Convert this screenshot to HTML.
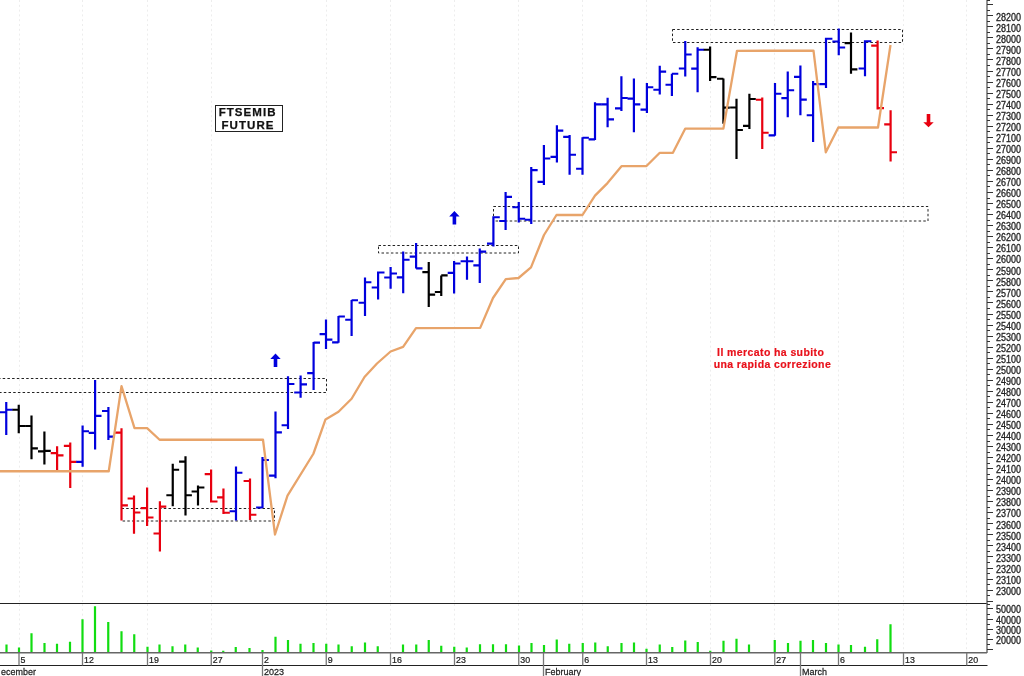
<!DOCTYPE html><html><head><meta charset="utf-8"><style>html,body{margin:0;padding:0;background:#fff;width:1024px;height:676px;overflow:hidden}svg{display:block;font-family:"Liberation Sans",sans-serif}#w{filter:blur(0.5px)}</style></head><body><div id="w"><svg width="1024" height="676" viewBox="0 0 1024 676"><rect width="1024" height="676" fill="#fff"/><path d="M19.5 0V603M82.5 0V603M147.5 0V603M211.5 0V603M326.5 0V603M390.5 0V603M454.5 0V603M518.5 0V603M582.5 0V603M646.5 0V603M710.5 0V603M774.5 0V603M838.5 0V603M903.5 0V603M966.5 0V603" stroke="#ededed" stroke-width="1" stroke-dasharray="2 2.8" fill="none"/><path d="M19.5 604V653M82.5 604V653M147.5 604V653M211.5 604V653M326.5 604V653M390.5 604V653M454.5 604V653M518.5 604V653M582.5 604V653M646.5 604V653M710.5 604V653M774.5 604V653M838.5 604V653M903.5 604V653M966.5 604V653" stroke="#ededed" stroke-width="1" stroke-dasharray="2 2.8" fill="none"/><rect x="-2" y="378.5" width="328.5" height="14.0" fill="none" stroke="#222" stroke-width="1" stroke-dasharray="2.5 2.2"/><rect x="121.5" y="508.5" width="153.0" height="12.5" fill="none" stroke="#222" stroke-width="1" stroke-dasharray="2.5 2.2"/><rect x="378.5" y="245.5" width="140.0" height="7.5" fill="none" stroke="#222" stroke-width="1" stroke-dasharray="2.5 2.2"/><rect x="493.5" y="206.5" width="434.5" height="14.5" fill="none" stroke="#222" stroke-width="1" stroke-dasharray="2.5 2.2"/><rect x="672.5" y="29.5" width="230.0" height="13.0" fill="none" stroke="#222" stroke-width="1" stroke-dasharray="2.5 2.2"/><path d="M6.25 402V435M-0.15000000000000036 412.25H6.25M6.25 409.75H12.65" stroke="#0000DD" stroke-width="2.2" fill="none"/><path d="M18.75 404.75V433.3M12.35 409.75H18.75M18.75 426H25.15" stroke="#000000" stroke-width="2.2" fill="none"/><path d="M31.5 415.4V459.3M25.1 426H31.5M31.5 448.3H37.9" stroke="#000000" stroke-width="2.2" fill="none"/><path d="M44.4 431.6V464.5M38.0 451.4H44.4M44.4 450.8H50.8" stroke="#000000" stroke-width="2.2" fill="none"/><path d="M57.1 446.3V470.6M50.7 453.1H57.1M57.1 455.3H63.5" stroke="#E8000F" stroke-width="2.2" fill="none"/><path d="M70.25 442.5V488.1M63.85 445.8H70.25M70.25 461.9H76.65" stroke="#E8000F" stroke-width="2.2" fill="none"/><path d="M82.6 425.6V466.7M76.19999999999999 461.9H82.6M82.6 431.25H89.0" stroke="#0000DD" stroke-width="2.2" fill="none"/><path d="M95.1 380V449.4M88.69999999999999 432.8H95.1M95.1 415.8H101.5" stroke="#0000DD" stroke-width="2.2" fill="none"/><path d="M108.4 406.9V440M102.0 411H108.4M108.4 436.6H114.80000000000001" stroke="#0000DD" stroke-width="2.2" fill="none"/><path d="M121.5 428.3V520.6M115.1 432.7H121.5M121.5 505.4H127.9" stroke="#E8000F" stroke-width="2.2" fill="none"/><path d="M134 495.6V533.75M127.6 498.5H134M134 512.5H140.4" stroke="#E8000F" stroke-width="2.2" fill="none"/><path d="M147.1 487.5V526M140.7 508.1H147.1M147.1 517.5H153.5" stroke="#E8000F" stroke-width="2.2" fill="none"/><path d="M159.9 501.25V551.5M153.5 533.5H159.9M159.9 506.6H166.3" stroke="#E8000F" stroke-width="2.2" fill="none"/><path d="M172.75 463.75V506.25M166.35 495.25H172.75M172.75 469.75H179.15" stroke="#000000" stroke-width="2.2" fill="none"/><path d="M185.5 456.25V515.4M179.1 461.6H185.5M185.5 495.25H191.9" stroke="#000000" stroke-width="2.2" fill="none"/><path d="M198 485.6V505.6M191.6 491.5H198M198 487.5H204.4" stroke="#000000" stroke-width="2.2" fill="none"/><path d="M211.1 469.4V502.5M204.7 474.2H211.1M211.1 501.5H217.5" stroke="#E8000F" stroke-width="2.2" fill="none"/><path d="M223.45 488.5V514M217.04999999999998 497.4H223.45M223.45 512.75H229.85" stroke="#E8000F" stroke-width="2.2" fill="none"/><path d="M236 466.5V520.6M229.6 511.25H236M236 472.75H242.4" stroke="#0000DD" stroke-width="2.2" fill="none"/><path d="M250 478.5V520M243.6 481H250M250 514.75H256.4" stroke="#E8000F" stroke-width="2.2" fill="none"/><path d="M262.5 456.9V508.1M256.1 507.5H262.5M262.5 460H268.9" stroke="#0000DD" stroke-width="2.2" fill="none"/><path d="M275.5 411.5V478.3M269.1 475.6H275.5M275.5 432.4H281.9" stroke="#0000DD" stroke-width="2.2" fill="none"/><path d="M288 376.25V429M281.6 425.25H288M288 384H294.4" stroke="#0000DD" stroke-width="2.2" fill="none"/><path d="M300.6 375.6V397.75M294.20000000000005 392.5H300.6M300.6 384.4H307.0" stroke="#0000DD" stroke-width="2.2" fill="none"/><path d="M313.6 341.9V390M307.20000000000005 373.1H313.6M313.6 342.6H320.0" stroke="#0000DD" stroke-width="2.2" fill="none"/><path d="M326 319.4V349M319.6 334.2H326M326 339.6H332.4" stroke="#0000DD" stroke-width="2.2" fill="none"/><path d="M338.5 316V342.75M332.1 342.4H338.5M338.5 316.5H344.9" stroke="#0000DD" stroke-width="2.2" fill="none"/><path d="M351.6 300V336.1M345.20000000000005 319.75H351.6M351.6 300.25H358.0" stroke="#0000DD" stroke-width="2.2" fill="none"/><path d="M365 277.5V316M358.6 302.75H365M365 282.25H371.4" stroke="#0000DD" stroke-width="2.2" fill="none"/><path d="M378.1 271.5V299.4M371.70000000000005 287.5H378.1M378.1 272.5H384.5" stroke="#0000DD" stroke-width="2.2" fill="none"/><path d="M390.6 266.9V288.75M384.20000000000005 277.5H390.6M390.6 273.5H397.0" stroke="#0000DD" stroke-width="2.2" fill="none"/><path d="M403.2 251.6V293.3M396.8 277.4H403.2M403.2 259.75H409.59999999999997" stroke="#0000DD" stroke-width="2.2" fill="none"/><path d="M416.1 242.9V268.6M409.70000000000005 256.6H416.1M416.1 268.4H422.5" stroke="#0000DD" stroke-width="2.2" fill="none"/><path d="M428.75 262V307.1M422.35 272.2H428.75M428.75 294.6H435.15" stroke="#000000" stroke-width="2.2" fill="none"/><path d="M441.25 275.4V296M434.85 292H441.25M441.25 275.4H447.65" stroke="#000000" stroke-width="2.2" fill="none"/><path d="M454.1 261V293.5M447.70000000000005 272.9H454.1M454.1 263.5H460.5" stroke="#0000DD" stroke-width="2.2" fill="none"/><path d="M467 256.6V279.75M460.6 261.25H467M467 261.25H473.4" stroke="#0000DD" stroke-width="2.2" fill="none"/><path d="M479.75 248.5V282.9M473.35 265.4H479.75M479.75 251.6H486.15" stroke="#0000DD" stroke-width="2.2" fill="none"/><path d="M493.4 216.25V246.6M487.0 243.6H493.4M493.4 217.25H499.79999999999995" stroke="#0000DD" stroke-width="2.2" fill="none"/><path d="M505.6 191.9V230M499.20000000000005 221H505.6M505.6 196.9H512.0" stroke="#0000DD" stroke-width="2.2" fill="none"/><path d="M518.75 201.9V222.5M512.35 207.25H518.75M518.75 218.75H525.15" stroke="#0000DD" stroke-width="2.2" fill="none"/><path d="M531.25 166.9V224M524.85 219.75H531.25M531.25 170.1H537.65" stroke="#0000DD" stroke-width="2.2" fill="none"/><path d="M543.9 145V185M537.5 181.9H543.9M543.9 158.5H550.3" stroke="#0000DD" stroke-width="2.2" fill="none"/><path d="M556.9 125.25V162.5M550.5 156.9H556.9M556.9 130.6H563.3" stroke="#0000DD" stroke-width="2.2" fill="none"/><path d="M569.6 135V174.75M563.2 136.9H569.6M569.6 154.75H576.0" stroke="#0000DD" stroke-width="2.2" fill="none"/><path d="M582.5 137.25V174.75M576.1 168.75H582.5M582.5 137.75H588.9" stroke="#0000DD" stroke-width="2.2" fill="none"/><path d="M595 102.3V140M588.6 139.4H595M595 104.4H601.4" stroke="#0000DD" stroke-width="2.2" fill="none"/><path d="M607.6 97.8V127.25M601.2 104.4H607.6M607.6 119.4H614.0" stroke="#0000DD" stroke-width="2.2" fill="none"/><path d="M621.4 76.25V111M615.0 108.4H621.4M621.4 98H627.8" stroke="#0000DD" stroke-width="2.2" fill="none"/><path d="M633.9 78.5V132.25M627.5 98.6H633.9M633.9 104.4H640.3" stroke="#0000DD" stroke-width="2.2" fill="none"/><path d="M646.9 82.9V113.1M640.5 109.6H646.9M646.9 87.25H653.3" stroke="#0000DD" stroke-width="2.2" fill="none"/><path d="M659.75 65.75V94.5M653.35 89.75H659.75M659.75 71.6H666.15" stroke="#0000DD" stroke-width="2.2" fill="none"/><path d="M671.9 73.75V96M665.5 84.75H671.9M671.9 73.75H678.3" stroke="#0000DD" stroke-width="2.2" fill="none"/><path d="M685.25 41V76.6M678.85 68.5H685.25M685.25 54.5H691.65" stroke="#0000DD" stroke-width="2.2" fill="none"/><path d="M697.6 47.25V92.25M691.2 68.6H697.6M697.6 49.75H704.0" stroke="#0000DD" stroke-width="2.2" fill="none"/><path d="M710.1 46.6V81.1M703.7 49.75H710.1M710.1 77.1H716.5" stroke="#000000" stroke-width="2.2" fill="none"/><path d="M723.4 78.5V123.75M717.0 78.75H723.4M723.4 107.6H729.8" stroke="#000000" stroke-width="2.2" fill="none"/><path d="M736.5 98.75V159M730.1 107.5H736.5M736.5 130H742.9" stroke="#000000" stroke-width="2.2" fill="none"/><path d="M749.4 93.75V129M743.0 125.8H749.4M749.4 99H755.8" stroke="#000000" stroke-width="2.2" fill="none"/><path d="M762.25 97.5V149M755.85 99.75H762.25M762.25 132.75H768.65" stroke="#E8000F" stroke-width="2.2" fill="none"/><path d="M775 83.1V135.8M768.6 135.3H775M775 93.75H781.4" stroke="#0000DD" stroke-width="2.2" fill="none"/><path d="M787.75 71.5V117.2M781.35 98.1H787.75M787.75 90.25H794.15" stroke="#0000DD" stroke-width="2.2" fill="none"/><path d="M800.4 65.6V115.3M794.0 76.9H800.4M800.4 99.6H806.8" stroke="#0000DD" stroke-width="2.2" fill="none"/><path d="M813.1 80.9V142.1M806.7 115.25H813.1M813.1 84.1H819.5" stroke="#0000DD" stroke-width="2.2" fill="none"/><path d="M826 37.75V88.1M819.6 84.1H826M826 38.75H832.4" stroke="#0000DD" stroke-width="2.2" fill="none"/><path d="M838.75 28.5V55.25M832.35 41.5H838.75M838.75 47.5H845.15" stroke="#0000DD" stroke-width="2.2" fill="none"/><path d="M851 32.5V73.75M844.6 43.1H851M851 69.4H857.4" stroke="#000000" stroke-width="2.2" fill="none"/><path d="M865 40.25V76.25M858.6 68.5H865M865 41.25H871.4" stroke="#0000DD" stroke-width="2.2" fill="none"/><path d="M877.6 40.6V109.4M871.2 45.6H877.6M877.6 108.1H884.0" stroke="#E8000F" stroke-width="2.2" fill="none"/><path d="M890.6 110.25V161.5M884.2 124.4H890.6M890.6 152.25H897.0" stroke="#E8000F" stroke-width="2.2" fill="none"/><polyline points="0,471.25 108.75,471.25 121.5,386.2 134.5,428.1 147.1,428.1 159.6,439.75 263,439.75 275,534.5 287.5,495.6 313.4,453.75 325.5,419.4 338.5,411.8 351.6,398.75 364.5,377 377,363.5 390.6,351.5 403.1,346.9 416,328.1 480.2,327.9 493,298 505.8,279.1 518.5,278 531,267.4 544,235 556.5,215 582.5,215 595,195.6 607.5,183.1 621.5,166.2 646.5,166 659.8,152.8 672.9,152.8 685.3,128.6 723.4,128.6 737,50.8 813.5,50.7 825.8,152.25 838.3,127.5 878,127.5 890.5,45" fill="none" stroke="#E8A46A" stroke-width="2.3" stroke-linejoin="round"/><path d="M275.5 353.5L280.7 359.1H277.3V366.9H273.7V359.1H270.3Z" fill="#0000DD"/><path d="M454.4 211L459.59999999999997 216.6H456.2V224.4H452.59999999999997V216.6H449.2Z" fill="#0000DD"/><path d="M928.5 127.2L933.7 122.2H930.3V114H926.7V122.2H923.3Z" fill="#E8000F"/><rect x="215.5" y="105.5" width="67" height="26" fill="#fff" stroke="#222" stroke-width="1"/><text x="247.6" y="115.8" font-size="11.5" font-weight="bold" text-anchor="middle" letter-spacing="1.05" fill="#111" stroke="#111" stroke-width="0.25">FTSEMIB</text><text x="248" y="129.4" font-size="11.5" font-weight="bold" text-anchor="middle" letter-spacing="1.05" fill="#111" stroke="#111" stroke-width="0.25">FUTURE</text><text x="770.7" y="355.7" font-size="10.5" font-weight="bold" text-anchor="middle" letter-spacing="0.4" fill="#E8101A" stroke="#E8101A" stroke-width="0.2">Il mercato ha subito</text><text x="772.4" y="368" font-size="10.5" font-weight="bold" text-anchor="middle" letter-spacing="0.4" fill="#E8101A" stroke="#E8101A" stroke-width="0.2">una rapida correzione</text><path d="M6.5 644.5V653M19 647.5V653M31.5 633.25V653M44.5 643V653M57 643.75V653M70 641.75V653M82.5 619.25V653M95 606.25V653M108.25 622V653M121.5 631.25V653M134.25 634.25V653M147.5 646.75V653M159.5 644.5V653M172.5 646.25V653M185.25 644.5V653M197.75 647.5V653M211.25 650.5V653M223.25 650.75V653M235.75 647V653M249.5 648V653M262.5 650V653M275.5 636.75V653M288 640V653M300.5 643.75V653M313.5 643V653M326.25 643.75V653M338.5 644.5V653M351.75 646.25V653M365 642.5V653M377.75 646.25V653M403 644.5V653M416.25 644.5V653M428.75 640V653M441.25 645.75V653M454.25 646.75V653M466.75 647.5V653M480 644.25V653M493 644.25V653M506 644.25V653M519 645.5V653M531.5 643V653M544 645V653M556.75 639.5V653M569.25 643.75V653M582.75 643V653M595.25 642.5V653M607.75 646.25V653M621.5 643V653M634 642.5V653M646.5 648.75V653M659.75 644.5V653M672.25 647V653M685.25 640.5V653M697.75 642V653M710.25 650.75V653M723.5 640.75V653M736.5 638.75V653M749 644.5V653M774.75 640V653M788 643V653M800.5 640.75V653M813 640V653M826 643V653M838.5 644.5V653M851 645V653M865 646.75V653M877.25 639.25V653M890.5 624.25V653" stroke="#11DD11" stroke-width="2.2" fill="none"/><path d="M0 603.5H987.5M0 665.5H987.5" stroke="#222" stroke-width="1" fill="none"/><path d="M0 652.8H987" stroke="#666" stroke-width="1.4" fill="none"/><path d="M987 0V653" stroke="#666" stroke-width="1.4" fill="none"/><path d="M987 601.5H993M987 595.5H990M987 590.5H993M987 584.5H990M987 579.5H993M987 573.5H990M987 568.5H993M987 562.5H990M987 556.5H993M987 551.5H990M987 545.5H993M987 540.5H990M987 534.5H993M987 529.5H990M987 523.5H993M987 518.5H990M987 512.5H993M987 507.5H990M987 501.5H993M987 496.5H990M987 490.5H993M987 485.5H990M987 479.5H993M987 474.5H990M987 468.5H993M987 463.5H990M987 457.5H993M987 452.5H990M987 446.5H993M987 441.5H990M987 435.5H993M987 429.5H990M987 424.5H993M987 418.5H990M987 413.5H993M987 407.5H990M987 402.5H993M987 396.5H990M987 391.5H993M987 385.5H990M987 380.5H993M987 374.5H990M987 369.5H993M987 363.5H990M987 358.5H993M987 352.5H990M987 347.5H993M987 341.5H990M987 336.5H993M987 330.5H990M987 325.5H993M987 319.5H990M987 314.5H993M987 308.5H990M987 302.5H993M987 297.5H990M987 291.5H993M987 286.5H990M987 280.5H993M987 275.5H990M987 269.5H993M987 264.5H990M987 258.5H993M987 253.5H990M987 247.5H993M987 242.5H990M987 236.5H993M987 231.5H990M987 225.5H993M987 220.5H990M987 214.5H993M987 209.5H990M987 203.5H993M987 198.5H990M987 192.5H993M987 186.5H990M987 181.5H993M987 175.5H990M987 170.5H993M987 164.5H990M987 159.5H993M987 153.5H990M987 148.5H993M987 142.5H990M987 137.5H993M987 131.5H990M987 126.5H993M987 120.5H990M987 115.5H993M987 109.5H990M987 104.5H993M987 98.5H990M987 93.5H993M987 87.5H990M987 82.5H993M987 76.5H990M987 71.5H993M987 65.5H990M987 59.5H993M987 54.5H990M987 48.5H993M987 43.5H990M987 37.5H993M987 32.5H990M987 26.5H993M987 21.5H990M987 15.5H993M987 10.5H990M987 4.5H993M987 0.5H990" stroke="#333" stroke-width="1" fill="none"/><g font-size="10" fill="#222" stroke="#222" stroke-width="0.3"><text transform="matrix(0.9 0 0 1 996 594.80)">23000</text><text transform="matrix(0.9 0 0 1 996 583.76)">23100</text><text transform="matrix(0.9 0 0 1 996 572.71)">23200</text><text transform="matrix(0.9 0 0 1 996 561.67)">23300</text><text transform="matrix(0.9 0 0 1 996 550.62)">23400</text><text transform="matrix(0.9 0 0 1 996 539.58)">23500</text><text transform="matrix(0.9 0 0 1 996 528.54)">23600</text><text transform="matrix(0.9 0 0 1 996 517.49)">23700</text><text transform="matrix(0.9 0 0 1 996 506.45)">23800</text><text transform="matrix(0.9 0 0 1 996 495.40)">23900</text><text transform="matrix(0.9 0 0 1 996 484.36)">24000</text><text transform="matrix(0.9 0 0 1 996 473.32)">24100</text><text transform="matrix(0.9 0 0 1 996 462.27)">24200</text><text transform="matrix(0.9 0 0 1 996 451.23)">24300</text><text transform="matrix(0.9 0 0 1 996 440.18)">24400</text><text transform="matrix(0.9 0 0 1 996 429.14)">24500</text><text transform="matrix(0.9 0 0 1 996 418.10)">24600</text><text transform="matrix(0.9 0 0 1 996 407.05)">24700</text><text transform="matrix(0.9 0 0 1 996 396.01)">24800</text><text transform="matrix(0.9 0 0 1 996 384.96)">24900</text><text transform="matrix(0.9 0 0 1 996 373.92)">25000</text><text transform="matrix(0.9 0 0 1 996 362.88)">25100</text><text transform="matrix(0.9 0 0 1 996 351.83)">25200</text><text transform="matrix(0.9 0 0 1 996 340.79)">25300</text><text transform="matrix(0.9 0 0 1 996 329.74)">25400</text><text transform="matrix(0.9 0 0 1 996 318.70)">25500</text><text transform="matrix(0.9 0 0 1 996 307.66)">25600</text><text transform="matrix(0.9 0 0 1 996 296.61)">25700</text><text transform="matrix(0.9 0 0 1 996 285.57)">25800</text><text transform="matrix(0.9 0 0 1 996 274.52)">25900</text><text transform="matrix(0.9 0 0 1 996 263.48)">26000</text><text transform="matrix(0.9 0 0 1 996 252.44)">26100</text><text transform="matrix(0.9 0 0 1 996 241.39)">26200</text><text transform="matrix(0.9 0 0 1 996 230.35)">26300</text><text transform="matrix(0.9 0 0 1 996 219.30)">26400</text><text transform="matrix(0.9 0 0 1 996 208.26)">26500</text><text transform="matrix(0.9 0 0 1 996 197.22)">26600</text><text transform="matrix(0.9 0 0 1 996 186.17)">26700</text><text transform="matrix(0.9 0 0 1 996 175.13)">26800</text><text transform="matrix(0.9 0 0 1 996 164.08)">26900</text><text transform="matrix(0.9 0 0 1 996 153.04)">27000</text><text transform="matrix(0.9 0 0 1 996 142.00)">27100</text><text transform="matrix(0.9 0 0 1 996 130.95)">27200</text><text transform="matrix(0.9 0 0 1 996 119.91)">27300</text><text transform="matrix(0.9 0 0 1 996 108.86)">27400</text><text transform="matrix(0.9 0 0 1 996 97.82)">27500</text><text transform="matrix(0.9 0 0 1 996 86.78)">27600</text><text transform="matrix(0.9 0 0 1 996 75.73)">27700</text><text transform="matrix(0.9 0 0 1 996 64.69)">27800</text><text transform="matrix(0.9 0 0 1 996 53.64)">27900</text><text transform="matrix(0.9 0 0 1 996 42.60)">28000</text><text transform="matrix(0.9 0 0 1 996 31.56)">28100</text><text transform="matrix(0.9 0 0 1 996 20.51)">28200</text></g><path d="M987 604.5H990M987 608.5H993M987 614.5H990M987 619.5H993M987 624.5H990M987 629.5H993M987 634.5H990M987 639.5H993M987 644.5H990M987 649.5H993" stroke="#333" stroke-width="1" fill="none"/><g font-size="10" fill="#222" stroke="#222" stroke-width="0.3"><text transform="matrix(0.9 0 0 1 996 613.00)">50000</text><text transform="matrix(0.9 0 0 1 996 623.50)">40000</text><text transform="matrix(0.9 0 0 1 996 633.70)">30000</text><text transform="matrix(0.9 0 0 1 996 643.80)">20000</text></g><path d="M19 653V665.5M82.5 653V665.5M147.5 653V665.5M211.25 653V665.5M262.5 653V665.5M326.25 653V665.5M390.5 653V665.5M454.5 653V665.5M518.75 653V665.5M582.75 653V665.5M646.5 653V665.5M710.5 653V665.5M774.75 653V665.5M838.5 653V665.5M903.5 653V665.5M966.75 653V665.5M262.5 653V676M543.5 653V676M800.5 653V676" stroke="#777" stroke-width="1.3" fill="none"/><g font-size="9.8" fill="#222" stroke="#222" stroke-width="0.25"><text transform="matrix(0.9 0 0 1 20.5 662.8)">5</text><text transform="matrix(0.9 0 0 1 84.0 662.8)">12</text><text transform="matrix(0.9 0 0 1 149.0 662.8)">19</text><text transform="matrix(0.9 0 0 1 212.75 662.8)">27</text><text transform="matrix(0.9 0 0 1 264.0 662.8)">2</text><text transform="matrix(0.9 0 0 1 327.75 662.8)">9</text><text transform="matrix(0.9 0 0 1 392.0 662.8)">16</text><text transform="matrix(0.9 0 0 1 456.0 662.8)">23</text><text transform="matrix(0.9 0 0 1 520.25 662.8)">30</text><text transform="matrix(0.9 0 0 1 584.25 662.8)">6</text><text transform="matrix(0.9 0 0 1 648.0 662.8)">13</text><text transform="matrix(0.9 0 0 1 712.0 662.8)">20</text><text transform="matrix(0.9 0 0 1 776.25 662.8)">27</text><text transform="matrix(0.9 0 0 1 840.0 662.8)">6</text><text transform="matrix(0.9 0 0 1 905.0 662.8)">13</text><text transform="matrix(0.9 0 0 1 968.25 662.8)">20</text><text transform="matrix(0.92 0 0 1 264 675)">2023</text><text transform="matrix(0.92 0 0 1 545 675)">February</text><text transform="matrix(0.92 0 0 1 802 675)">March</text><text transform="matrix(0.92 0 0 1 1.0 675)">ecember</text></g></svg></div></body></html>
